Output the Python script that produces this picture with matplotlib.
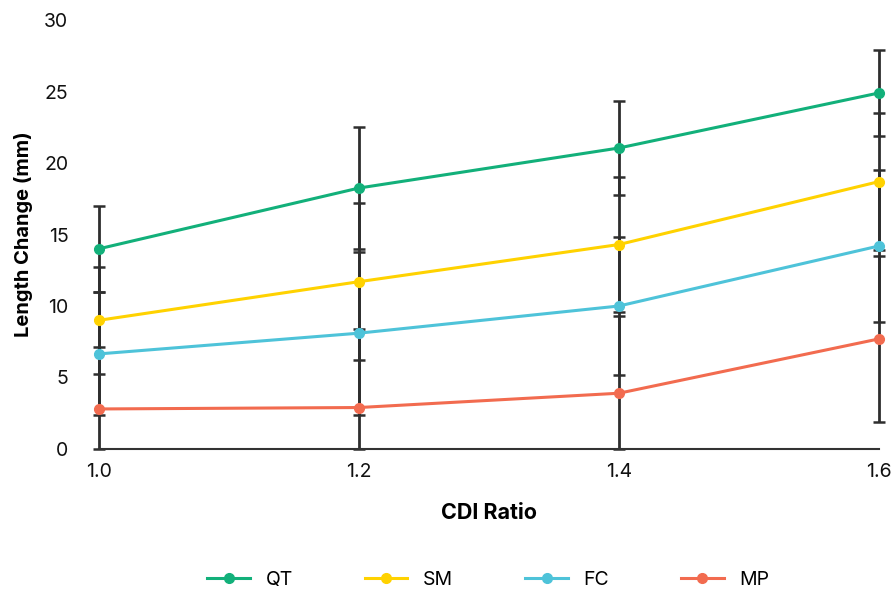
import numpy as np
import matplotlib.pyplot as plt

plt.rcParams['font.family'] = ['Inter', 'DejaVu Sans']

# ── Données ──────────────────────────────────────────────────────────────────
cdi_ratio = [1.0, 1.2, 1.4, 1.6]

qt_mean = [14.0, 18.25, 21.05, 24.9]
sm_mean = [9.0, 11.7, 14.3, 18.7]
fc_mean = [6.65, 8.1, 10.0, 14.2]
mp_mean = [2.8, 2.9, 3.9, 7.7]

qt_err = [3.0, 4.25, 3.3, 3.0]
sm_err = [3.75, 5.5, 4.7, 4.8]
fc_err = [4.3, 5.7, 4.8, 5.3]
mp_err = [4.35, 5.5, 5.4, 5.8]

series_names = ['QT', 'SM', 'FC', 'MP']
colors = ['#12B07A', '#FFD200', '#4EC3D9', '#F26B4F']

# ── Figure ───────────────────────────────────────────────────────────────────
fig = plt.figure(figsize=(8.91, 5.89), dpi=100)
ax = fig.add_axes([0.111, 0.2377, 0.8755, 0.7283])

means = [qt_mean, sm_mean, fc_mean, mp_mean]
errs = [qt_err, sm_err, fc_err, mp_err]

# barres d'erreur d'abord (gris foncé), puis les courbes par-dessus
for m, e in zip(means, errs):
    lo = [min(ei, mi) for mi, ei in zip(m, e)]   # coupé à 0 comme l'axe
    ax.errorbar(cdi_ratio, m, yerr=[lo, e], fmt='none', ecolor='#2e2e2e',
                elinewidth=2, capsize=4, capthick=1.8, zorder=2, clip_on=False)

for m, name, c in zip(means, series_names, colors):
    ax.plot(cdi_ratio, m, '-o', color=c, lw=2.2, ms=7, label=name,
            zorder=3, clip_on=False)

ax.set_xlim(1.0, 1.6)
ax.set_ylim(0, 30)
ax.set_xticks(cdi_ratio)
ax.set_xticklabels(['1.0', '1.2', '1.4', '1.6'])
ax.set_yticks(range(0, 31, 5))

for s in ['top', 'right', 'left']:
    ax.spines[s].set_visible(False)
ax.spines['bottom'].set_color('#333333')
ax.spines['bottom'].set_linewidth(1.5)
ax.spines['bottom'].set_zorder(4)
ax.tick_params(axis='both', length=0, labelsize=14, colors='#111111')
ax.tick_params(axis='x', pad=10)
ax.tick_params(axis='y', pad=22)

ax.set_xlabel('CDI Ratio', fontsize=15.5, fontweight='bold', labelpad=16)
ax.set_ylabel('Length Change (mm)', fontsize=14.5, fontweight='bold', labelpad=8)

fig.legend(loc='lower center', bbox_to_anchor=(0.548, -0.03), ncol=4,
           frameon=False, fontsize=14, columnspacing=3.7, handlelength=2.2,
           handletextpad=0.8)

plt.savefig('out.png', dpi=100)
